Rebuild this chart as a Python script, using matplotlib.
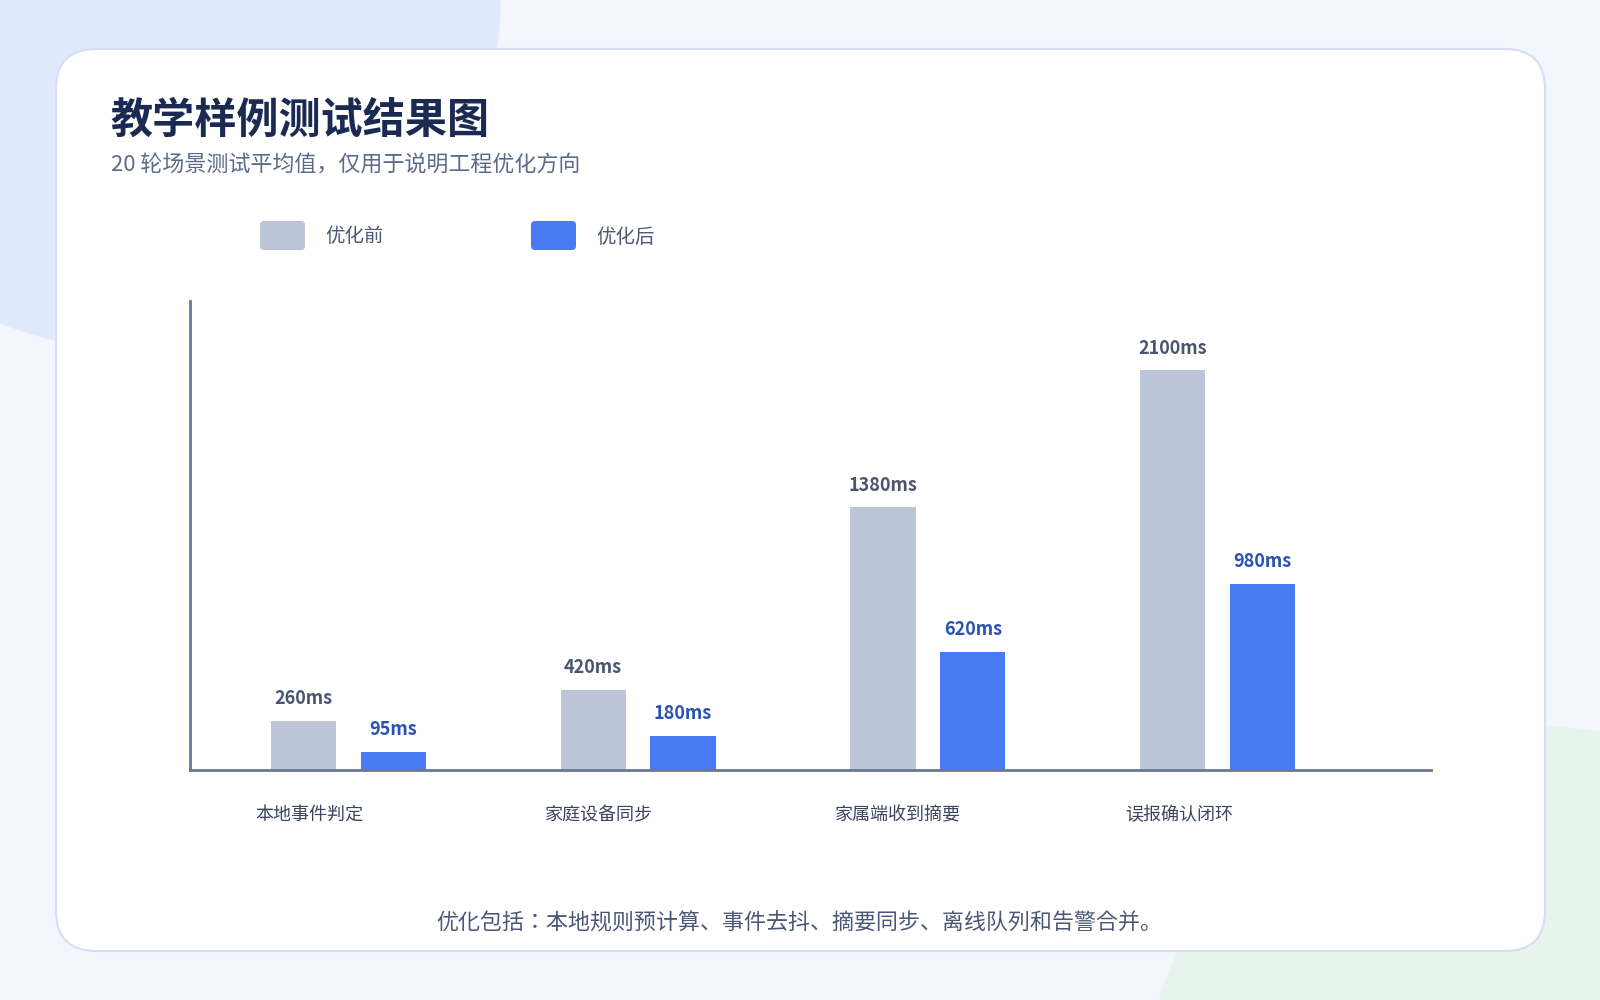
import matplotlib
matplotlib.use("Agg")
from matplotlib import pyplot as plt
from matplotlib.patches import FancyBboxPatch, Ellipse, Circle
import numpy as np

plt.rcParams['font.family'] = ['Noto Sans CJK SC', 'DejaVu Sans']

title = "教学样例测试结果图"
subtitle = "20 轮场景测试平均值，仅用于说明工程优化方向"
footnote = "优化包括：本地规则预计算、事件去抖、摘要同步、离线队列和告警合并。"
categories = ["本地事件判定", "家庭设备同步", "家属端收到摘要", "误报确认闭环"]
series_names = ["优化前", "优化后"]
before = [260, 420, 1380, 2100]
after = [95, 180, 620, 980]

c_before = "#bcc6d8"
c_after = "#497bf5"
c_axis = "#6b7893"

W, H = 1600, 1000
fig = plt.figure(figsize=(16, 10), dpi=100)
fig.patch.set_facecolor("#f3f6fd")

# background layer in pixel coords (y down)
bg = fig.add_axes([0, 0, 1, 1])
bg.set_xlim(0, W)
bg.set_ylim(H, 0)
bg.axis("off")
bg.add_patch(Ellipse((140, 0), 720, 700, color="#e0eafc", zorder=0))
bg.add_patch(Circle((1535, 1122), 395, color="#e5f5ee", zorder=0))
bg.add_patch(FancyBboxPatch((56, 49), 1489, 902,
                            boxstyle="round,pad=0,rounding_size=40",
                            facecolor="white", edgecolor="#d5def2",
                            linewidth=1.5, zorder=1))

bg.text(110, 121, title, fontsize=30.3, fontweight="bold", color="#1b2a52",
        va="center", ha="left", zorder=2)
bg.text(111, 166, subtitle, fontsize=15.85, color="#5a6a8a",
        va="center", ha="left", zorder=2)

# legend
leg_x = [260, 531]
for lx, name, col in zip(leg_x, series_names, [c_before, c_after]):
    bg.add_patch(FancyBboxPatch((lx, 221), 45, 29,
                                boxstyle="round,pad=0,rounding_size=4",
                                facecolor=col, edgecolor="none", zorder=2))
    bg.text(lx + 65, 237, name, fontsize=14, color="#4d5a75",
            va="center", ha="left", zorder=2)

bg.text(799, 924, footnote, fontsize=15.8, color="#4a5878",
        family=['Noto Sans CJK JP', 'DejaVu Sans'],
        va="center", ha="center", zorder=2)

# chart
ax = fig.add_axes([190 / W, 1 - 770 / H, (1431 - 190) / W, (770 - 301) / H])
ax.set_facecolor("none")
x = np.arange(len(categories))
bw = 0.225
off = 0.155
ax.bar(x - off, before, bw, color=c_before, zorder=2)
ax.bar(x + off, after, bw, color=c_after, zorder=2)
ax.set_xlim(-0.546, 3.736)
ax.set_ylim(0, 2465)

for xi, v in zip(x - off, before):
    ax.annotate(f"{v}ms", (xi, v), xytext=(0, 16), textcoords="offset points",
                ha="center", va="center", fontsize=13, fontweight="bold",
                color="#4a5570")
for xi, v in zip(x + off, after):
    ax.annotate(f"{v}ms", (xi, v), xytext=(0, 16), textcoords="offset points",
                ha="center", va="center", fontsize=13, fontweight="bold",
                color="#2a52b0")

for xi, name in zip(x - off - bw / 2, categories):
    ax.annotate(name, (xi, 0), xycoords=("data", "axes fraction"),
                xytext=(-11, -32.5), textcoords="offset points",
                ha="left", va="center", fontsize=13, color="#3a4560")

for s in ["top", "right"]:
    ax.spines[s].set_visible(False)
for s in ["left", "bottom"]:
    ax.spines[s].set_color(c_axis)
    ax.spines[s].set_linewidth(2)
ax.set_xticks([])
ax.set_yticks([])

fig.savefig("out.png", dpi=100, facecolor=fig.get_facecolor())
